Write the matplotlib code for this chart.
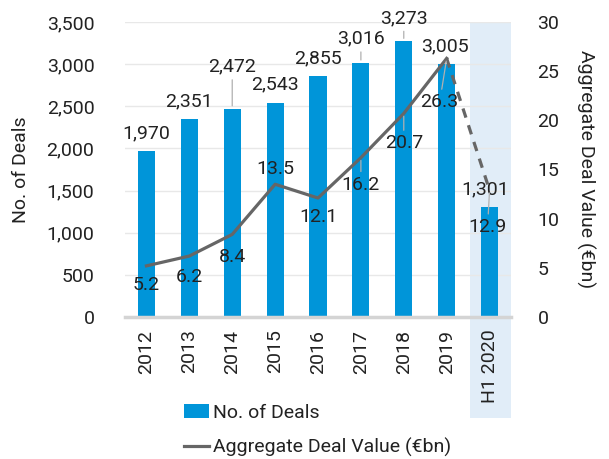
import numpy as np
import matplotlib
matplotlib.use("Agg")
import matplotlib.pyplot as plt
import matplotlib.transforms as mtransforms
from matplotlib.patches import Rectangle, Patch
from matplotlib.lines import Line2D

plt.rcParams['font.family'] = ['Roboto', 'DejaVu Sans']

years = ['2012', '2013', '2014', '2015', '2016', '2017', '2018', '2019', 'H1 2020']
deals = [1970, 2351, 2472, 2543, 2855, 3016, 3273, 3005, 1301]
value = [5.2, 6.2, 8.4, 13.5, 12.1, 16.2, 20.7, 26.3, 12.9]

# label offsets in pixels (dx, dy) and whether a leader line is drawn
deal_off = [(0, 18), (0, 17), (0, 42), (0, 18), (0, 18), (0, 24), (0, 23), (-2, 17), (-4, 18)]
deal_lead = [False, False, True, False, False, True, True, False, False]
val_off = [(0, -19), (0, -21), (0, -23), (0, 15), (0, -19), (0, -27), (0, -30), (-7, -44), (-2, -37)]
val_lead = [False, False, False, False, False, True, True, True, True]

bar_c = '#0095d9'
line_c = '#666666'
txt_c = '#222222'
fs = 14

fig = plt.figure(figsize=(6.09, 4.59), dpi=100)
ax = fig.add_axes([125/609, 1-317/459, 386/609, 295/459])
ax2 = ax.twinx()
ax.patch.set_visible(False)
ax2.patch.set_visible(False)

x = np.arange(len(years))

# highlighted H1 2020 column, runs down past the tick labels
tr = mtransforms.blended_transform_factory(ax.transData, fig.transFigure)
fig.add_artist(Rectangle((7.55, 1-418/459), 0.95, (418-22)/459, transform=tr,
                         facecolor='#e1edf8', edgecolor='none', zorder=-1))

ax.bar(x, deals, width=0.4, color=bar_c, zorder=2)
ax.set_xlim(-0.5, 8.5)
ax.set_ylim(0, 3500)
ax.set_yticks(np.arange(0, 3501, 500))
ax.set_yticklabels([f'{v:,}' for v in range(0, 3501, 500)])
ax.grid(axis='y', color='#e8e8e8', lw=1, zorder=0)
ax.set_axisbelow(True)
ax.set_xticks(x)
ax.set_xticklabels(years, rotation=90)
ax.tick_params(axis='both', length=0, labelsize=fs, colors=txt_c)
ax.tick_params(axis='y', pad=22)
ax.tick_params(axis='x', pad=9)
for s in ['top', 'right', 'left']:
    ax.spines[s].set_visible(False)
ax.spines['bottom'].set_color('#d4d4d4')
ax.spines['bottom'].set_linewidth(2.5)
ax.set_ylabel('No. of Deals', fontsize=fs, color=txt_c, labelpad=12)

ax2.plot(x[:-1], value[:-1], color=line_c, lw=2.3, zorder=3)
ax2.plot(x[-2:], value[-2:], color=line_c, lw=2.3, ls=(0, (3, 2.5)), zorder=3)
ax2.set_ylim(0, 30)
ax2.set_yticks(np.arange(0, 31, 5))
ax2.tick_params(axis='y', length=0, labelsize=fs, colors=txt_c, pad=19)
for s in ['top', 'right', 'left', 'bottom']:
    ax2.spines[s].set_visible(False)
ax2.set_ylabel('Aggregate Deal Value (€bn)', fontsize=fs, color=txt_c,
               rotation=-90, labelpad=26)

lead = dict(arrowstyle='-', color='#b0b0b0', lw=0.9, shrinkA=1, shrinkB=2)
for i, d in enumerate(deals):
    ax.annotate(f'{d:,}', (x[i], d), xytext=deal_off[i], textcoords='offset pixels',
                ha='center', va='center', fontsize=fs, color=txt_c, zorder=5,
                arrowprops=lead if deal_lead[i] else None)
for i, v in enumerate(value):
    ax2.annotate(f'{v}', (x[i], v), xytext=val_off[i], textcoords='offset pixels',
                 ha='center', va='center', fontsize=fs, color=txt_c, zorder=5,
                 arrowprops=lead if val_lead[i] else None)

handles = [Patch(facecolor=bar_c, edgecolor='none', label='No. of Deals'),
           Line2D([], [], color=line_c, lw=2.3, label='Aggregate Deal Value (€bn)')]
fig.legend(handles=handles, loc='upper left', bbox_to_anchor=(176/609, 1-396/459),
           frameon=False, fontsize=fs, handlelength=1.3, handletextpad=0.2,
           labelspacing=0.85, borderaxespad=0, labelcolor=txt_c)

fig.savefig('out.png', dpi=100)
